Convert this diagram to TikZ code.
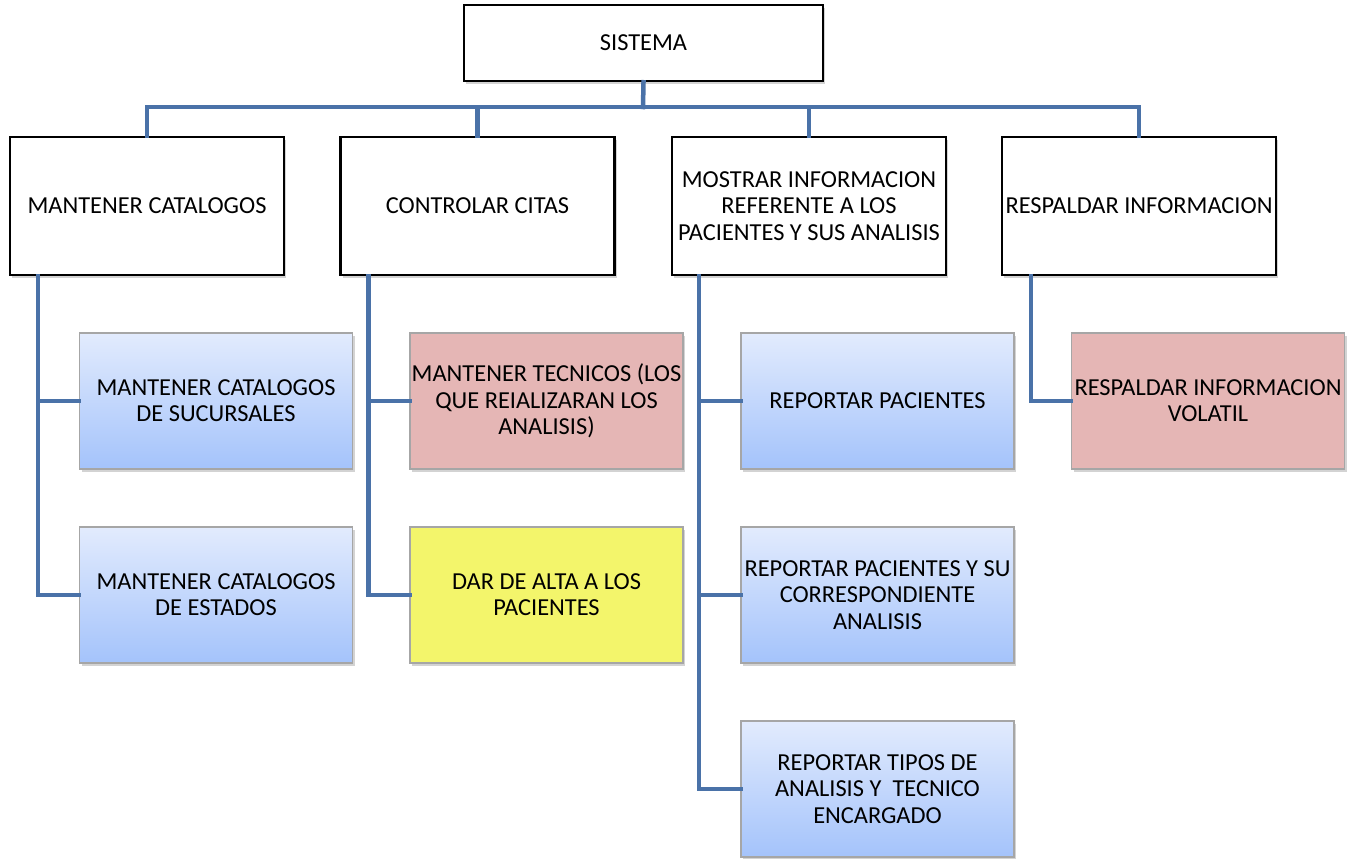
\documentclass[tikz,border=0pt]{standalone}
\usepackage{fontspec}
\setmainfont{Carlito}
\usetikzlibrary{shadows}
\definecolor{linkblue}{HTML}{4A72A8}
\definecolor{bluetop}{HTML}{E2EBFD}
\definecolor{bluebot}{HTML}{A4C3FB}
\definecolor{pinkfill}{HTML}{E5B6B5}
\definecolor{yellowfill}{HTML}{F3F56B}
\begin{document}
\begin{tikzpicture}[x=1pt,y=-1pt,
  base/.style={rectangle, align=center, inner sep=0pt,
    font=\fontsize{24.4}{26.3}\selectfont,
    drop shadow={shadow xshift=2pt, shadow yshift=-3pt, opacity=0.35, fill=gray}},
  topbox/.style={base, draw=black, line width=2.5pt, fill=white,
    minimum width=359pt, minimum height=76pt},
  lvlone/.style={base, draw=black, line width=2.5pt, fill=white,
    minimum width=274pt, minimum height=138pt},
  lvltwo/.style={base, draw=gray!70, line width=1.2pt,
    minimum width=273pt, minimum height=136pt},
  bluebox/.style={lvltwo, top color=bluetop, bottom color=bluebot},
  pinkbox/.style={lvltwo, fill=pinkfill},
  yellowbox/.style={lvltwo, fill=yellowfill},
  conn/.style={draw=linkblue, line width=4.5pt, line cap=rect}]
\useasboundingbox (0,0) rectangle (1355,859);

\coordinate (bus) at (643,107);

% nodes
\node[topbox] (s) at (643.5,43) {SISTEMA};

\node[lvlone] (a) at (147,206) {MANTENER CATALOGOS};
\node[lvlone] (b) at (477.5,206) {CONTROLAR CITAS};
\node[lvlone] (c) at (809,206) {MOSTRAR INFORMACION\\REFERENTE A LOS\\PACIENTES Y SUS ANALISIS};
\node[lvlone] (d) at (1139,206) {RESPALDAR INFORMACION};

\node[bluebox] (a1) at (216,401) {MANTENER CATALOGOS\\DE SUCURSALES};
\node[bluebox] (a2) at (216,595) {MANTENER CATALOGOS\\DE ESTADOS};
\node[pinkbox] (b1) at (546.5,401) {MANTENER TECNICOS (LOS\\QUE REIALIZARAN LOS\\ANALISIS)};
\node[yellowbox] (b2) at (546.5,595) {DAR DE ALTA A LOS\\PACIENTES};
\node[bluebox] (c1) at (877.5,401) {REPORTAR PACIENTES};
\node[bluebox] (c2) at (877.5,595) {REPORTAR PACIENTES Y SU\\CORRESPONDIENTE\\ANALISIS};
\node[bluebox] (c3) at (877.5,789) {REPORTAR TIPOS DE\\ANALISIS Y~~TECNICO\\ENCARGADO};
\node[pinkbox] (d1) at (1208,401) {RESPALDAR INFORMACION\\VOLATIL};

% connectors
\draw[conn] (s.south) -- (bus);
\draw[conn] (a.north |- bus) -- (d.north |- bus);
\draw[conn] (a.north |- bus) -- (a.north);
\draw[conn] (b.north |- bus) -- (b.north);
\draw[conn] (c.north |- bus) -- (c.north);
\draw[conn] (d.north |- bus) -- (d.north);

\coordinate (ta) at ([xshift=29pt]a.south west);
\coordinate (tb) at ([xshift=29pt]b.south west);
\coordinate (tc) at ([xshift=28pt]c.south west);
\coordinate (td) at ([xshift=30pt]d.south west);
\draw[conn] (ta) |- (a1.west);
\draw[conn] (ta) |- (a2.west);
\draw[conn] (tb) |- (b1.west);
\draw[conn] (tb) |- (b2.west);
\draw[conn] (tc) |- (c1.west);
\draw[conn] (tc) |- (c2.west);
\draw[conn] (tc) |- (c3.west);
\draw[conn] (td) |- (d1.west);
\end{tikzpicture}
\end{document}
